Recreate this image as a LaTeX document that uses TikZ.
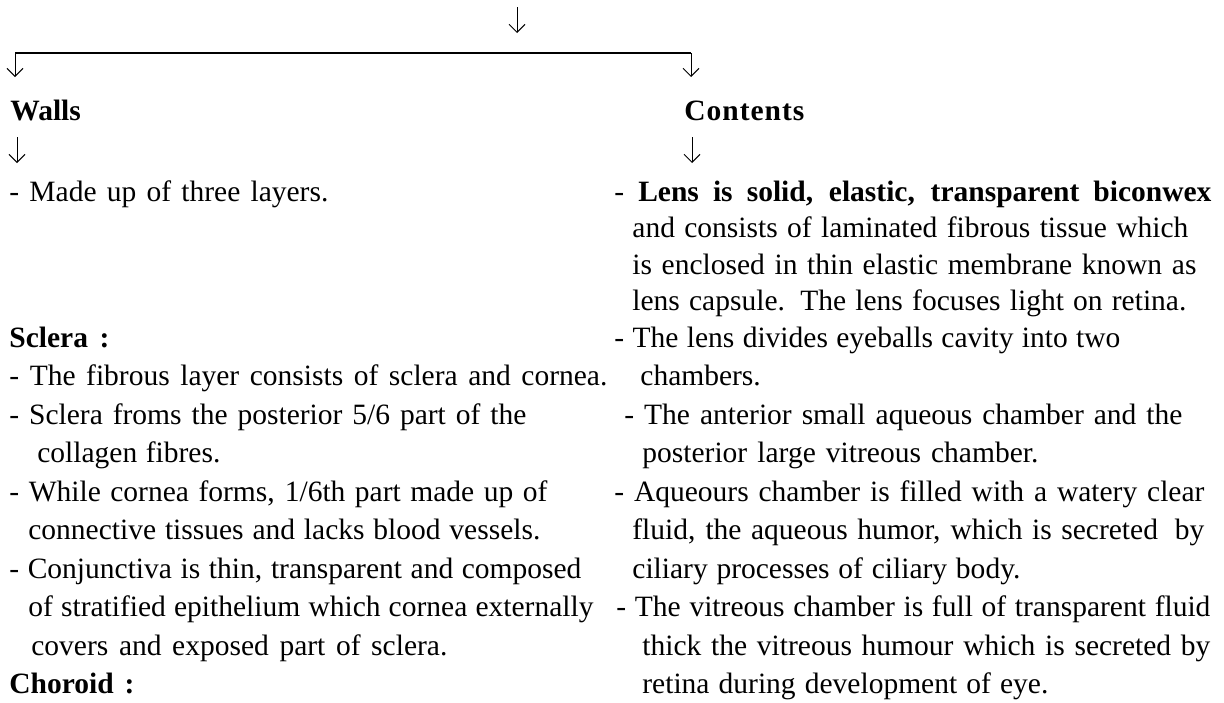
\documentclass[tikz,border=0pt]{standalone}
\usepackage{fontspec}
\setmainfont{Liberation Serif}
\usetikzlibrary{arrows.meta}
\tikzset{
  txt/.style={anchor=base west, inner sep=0pt, font=\fontsize{14.75pt}{18pt}\selectfont},
  head/.style={txt, font=\fontsize{14.75pt}{18pt}\selectfont\bfseries},
  down/.style={line width=0.5pt, -{Straight Barb[length=4pt,width=8pt,line width=0.5pt]}},
  bar/.style={line width=1.1pt},
}
% a line of text spread to a given width
\newcommand\spreadline[2]{\makebox[#1][s]{#2}}
\begin{document}
\begin{tikzpicture}[x=0.5pt,y=-0.5pt]
\useasboundingbox (0,0) rectangle (1224,702);

% branching bar
\coordinate (src) at (517,7);
\coordinate (srcTip) at (517,33);
\coordinate (barL) at (15,53);
\coordinate (barR) at (691,53);
\coordinate (wallsIn) at (15,77);
\coordinate (contIn) at (691,77);
\draw[down] (src) -- (srcTip);
\draw[bar] (barL) -- (barR);
\draw[down] (barL) -- (wallsIn);
\draw[down] (barR) -- (contIn);

% column heads
\node[head] (walls) at (10,120) {Walls};
\node[head] (contents) at (684,120) {\makebox[60pt][s]{C\hfil o\hfil n\hfil t\hfil e\hfil n\hfil t\hfil s}};
\coordinate (wallsOut) at (17,137);
\coordinate (wallsEnd) at (17,163);
\coordinate (contOut) at (692,137);
\coordinate (contEnd) at (692,163);
\draw[down] (wallsOut) -- (wallsEnd);
\draw[down] (contOut) -- (contEnd);

% left column: walls
\node[txt] (w0) at (9,201) {\spreadline{159.5pt}{- Made up of three layers.}};
\node[head] (sclera) at (9,347) {\spreadline{50pt}{Sclera :}};
\node[txt] (w5) at (9,385.5) {\spreadline{299pt}{- The fibrous layer consists of sclera and cornea.}};
\node[txt] (w6) at (9,424) {\spreadline{258.5pt}{- Sclera froms the posterior 5/6 part of the}};
\node[txt] (w7) at (37,462.5) {\spreadline{91.5pt}{collagen fibres.}};
\node[txt] (w8) at (9,501) {\spreadline{269pt}{- While cornea forms, 1/6th part made up of}};
\node[txt] (w9) at (28,539.5) {\spreadline{256pt}{connective tissues and lacks blood vessels.}};
\node[txt] (w10) at (9,578) {\spreadline{286pt}{- Conjunctiva is thin, transparent and composed}};
\node[txt] (w11) at (28,616.5) {\spreadline{282.5pt}{of stratified epithelium which cornea externally}};
\node[txt] (w12) at (31,655) {\spreadline{208pt}{covers and exposed part of sclera.}};
\node[head] (choroid) at (9,693.5) {\spreadline{62.5pt}{Choroid :}};

% right column: contents
\node[txt] (c0) at (614,201) {\spreadline{298.5pt}{- \textbf{Lens is solid, elastic, transparent biconwex}}};
\node[txt] (c1) at (632,237.5) {\spreadline{278pt}{and consists of laminated fibrous tissue which}};
\node[txt] (c2) at (632,274) {\spreadline{282pt}{is enclosed in thin elastic membrane known as}};
\node[txt] (c3) at (632,310.5) {\spreadline{277pt}{lens capsule. The lens focuses light on retina.}};
\node[txt] (c4) at (614,347) {\spreadline{253pt}{- The lens divides eyeballs cavity into two}};
\node[txt] (c5) at (640,385.5) {chambers.};
\node[txt] (c6) at (624,424) {\spreadline{279pt}{- The anterior small aqueous chamber and the}};
\node[txt] (c7) at (642,462.5) {\spreadline{198pt}{posterior large vitreous chamber.}};
\node[txt] (c8) at (614,501) {\spreadline{295pt}{- Aqueours chamber is filled with a watery clear}};
\node[txt] (c9) at (632,539.5) {\spreadline{286pt}{fluid, the aqueous humor, which is secreted\hspace{0.25em} by}};
\node[txt] (c10) at (632,578) {\spreadline{194pt}{ciliary processes of ciliary body.}};
\node[txt] (c11) at (616,616.5) {\spreadline{297pt}{- The vitreous chamber is full of transparent fluid}};
\node[txt] (c12) at (642,655) {\spreadline{284pt}{thick the vitreous humour which is secreted by}};
\node[txt] (c13) at (642,693.5) {\spreadline{203pt}{retina during development of eye.}};
\end{tikzpicture}
\end{document}
